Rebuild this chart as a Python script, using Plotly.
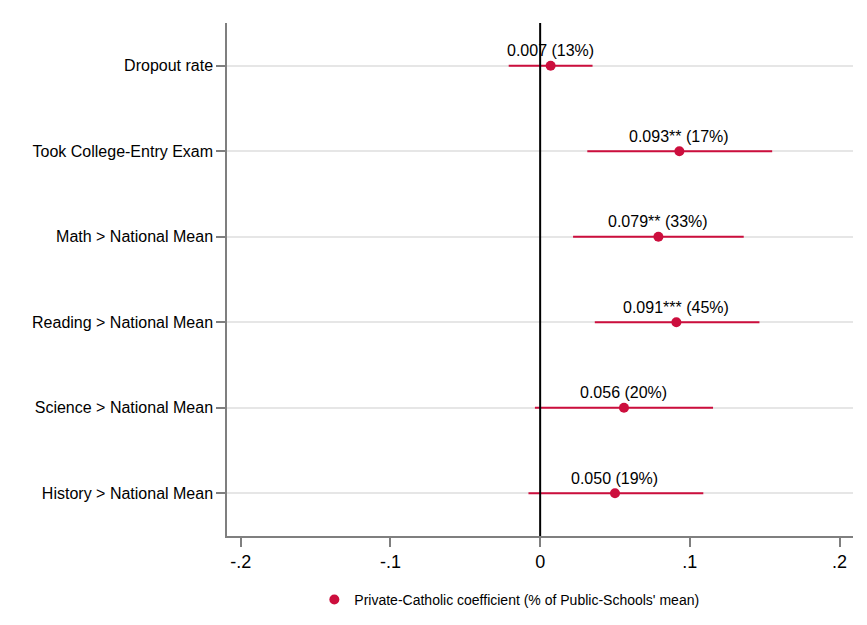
import plotly.graph_objects as go

categories = ["Dropout rate", "Took College-Entry Exam", "Math > National Mean",
              "Reading > National Mean", "Science > National Mean", "History > National Mean"]
coef = [0.007, 0.093, 0.079, 0.091, 0.056, 0.050]
ci_low = [-0.021, 0.0315, 0.022, 0.0365, -0.0035, -0.0078]
ci_high = [0.035, 0.155, 0.136, 0.1465, 0.1155, 0.109]
labels = ["0.007 (13%)", "0.093** (17%)", "0.079** (33%)", "0.091*** (45%)",
          "0.056 (20%)", "0.050 (19%)"]
x_ticks = [-0.2, -0.1, 0, 0.1, 0.2]
x_ticktext = ["-.2", "-.1", "0", ".1", ".2"]

red = "#CC0E3D"
ypos = list(range(len(categories)))

fig = go.Figure()
fig.add_trace(go.Scatter(
    x=coef, y=ypos, mode="markers",
    marker=dict(color=red, size=10),
    error_x=dict(type="data", symmetric=False,
                 array=[h - c for h, c in zip(ci_high, coef)],
                 arrayminus=[c - l for c, l in zip(coef, ci_low)],
                 color=red, thickness=2, width=0),
    name="Private-Catholic coefficient (% of Public-Schools' mean)",
    showlegend=True,
))

for c, y, t in zip(coef, ypos, labels):
    fig.add_annotation(x=c, y=y, text=t, showarrow=False, yshift=15,
                       font=dict(size=16, color="black"))

fig.add_shape(type="line", x0=0, x1=0, y0=-0.5, y1=5.5, xref="x", yref="y",
              line=dict(color="black", width=2), layer="above")

fig.update_layout(
    width=851, height=609,
    paper_bgcolor="white", plot_bgcolor="white",
    margin=dict(l=219, r=6, t=15, b=81, autoexpand=False),
    font=dict(family="Liberation Sans, Arial, Helvetica, sans-serif", color="black"),
    showlegend=True,
    legend=dict(orientation="h", x=0.451, xanchor="center",
                yref="container", y=0.028, yanchor="middle",
                font=dict(size=14)),
    xaxis=dict(range=[-0.2092, 0.209], tickvals=x_ticks, ticktext=x_ticktext,
               showgrid=False, zeroline=False, showline=True, linecolor="#7f7f7f",
               linewidth=1.5, ticks="outside", ticklen=9, tickcolor="#7f7f7f",
               tickwidth=1.5, tickfont=dict(size=18)),
    yaxis=dict(range=[5.5, -0.5], tickvals=ypos, ticktext=categories,
               showgrid=True, gridcolor="#e6e6e6", gridwidth=1.5, zeroline=False,
               showline=True, linecolor="#7f7f7f", linewidth=1.5, ticks="outside",
               ticklen=9, tickcolor="#7f7f7f", tickwidth=1.5, tickfont=dict(size=16)),
)

fig.write_html("out.html")
